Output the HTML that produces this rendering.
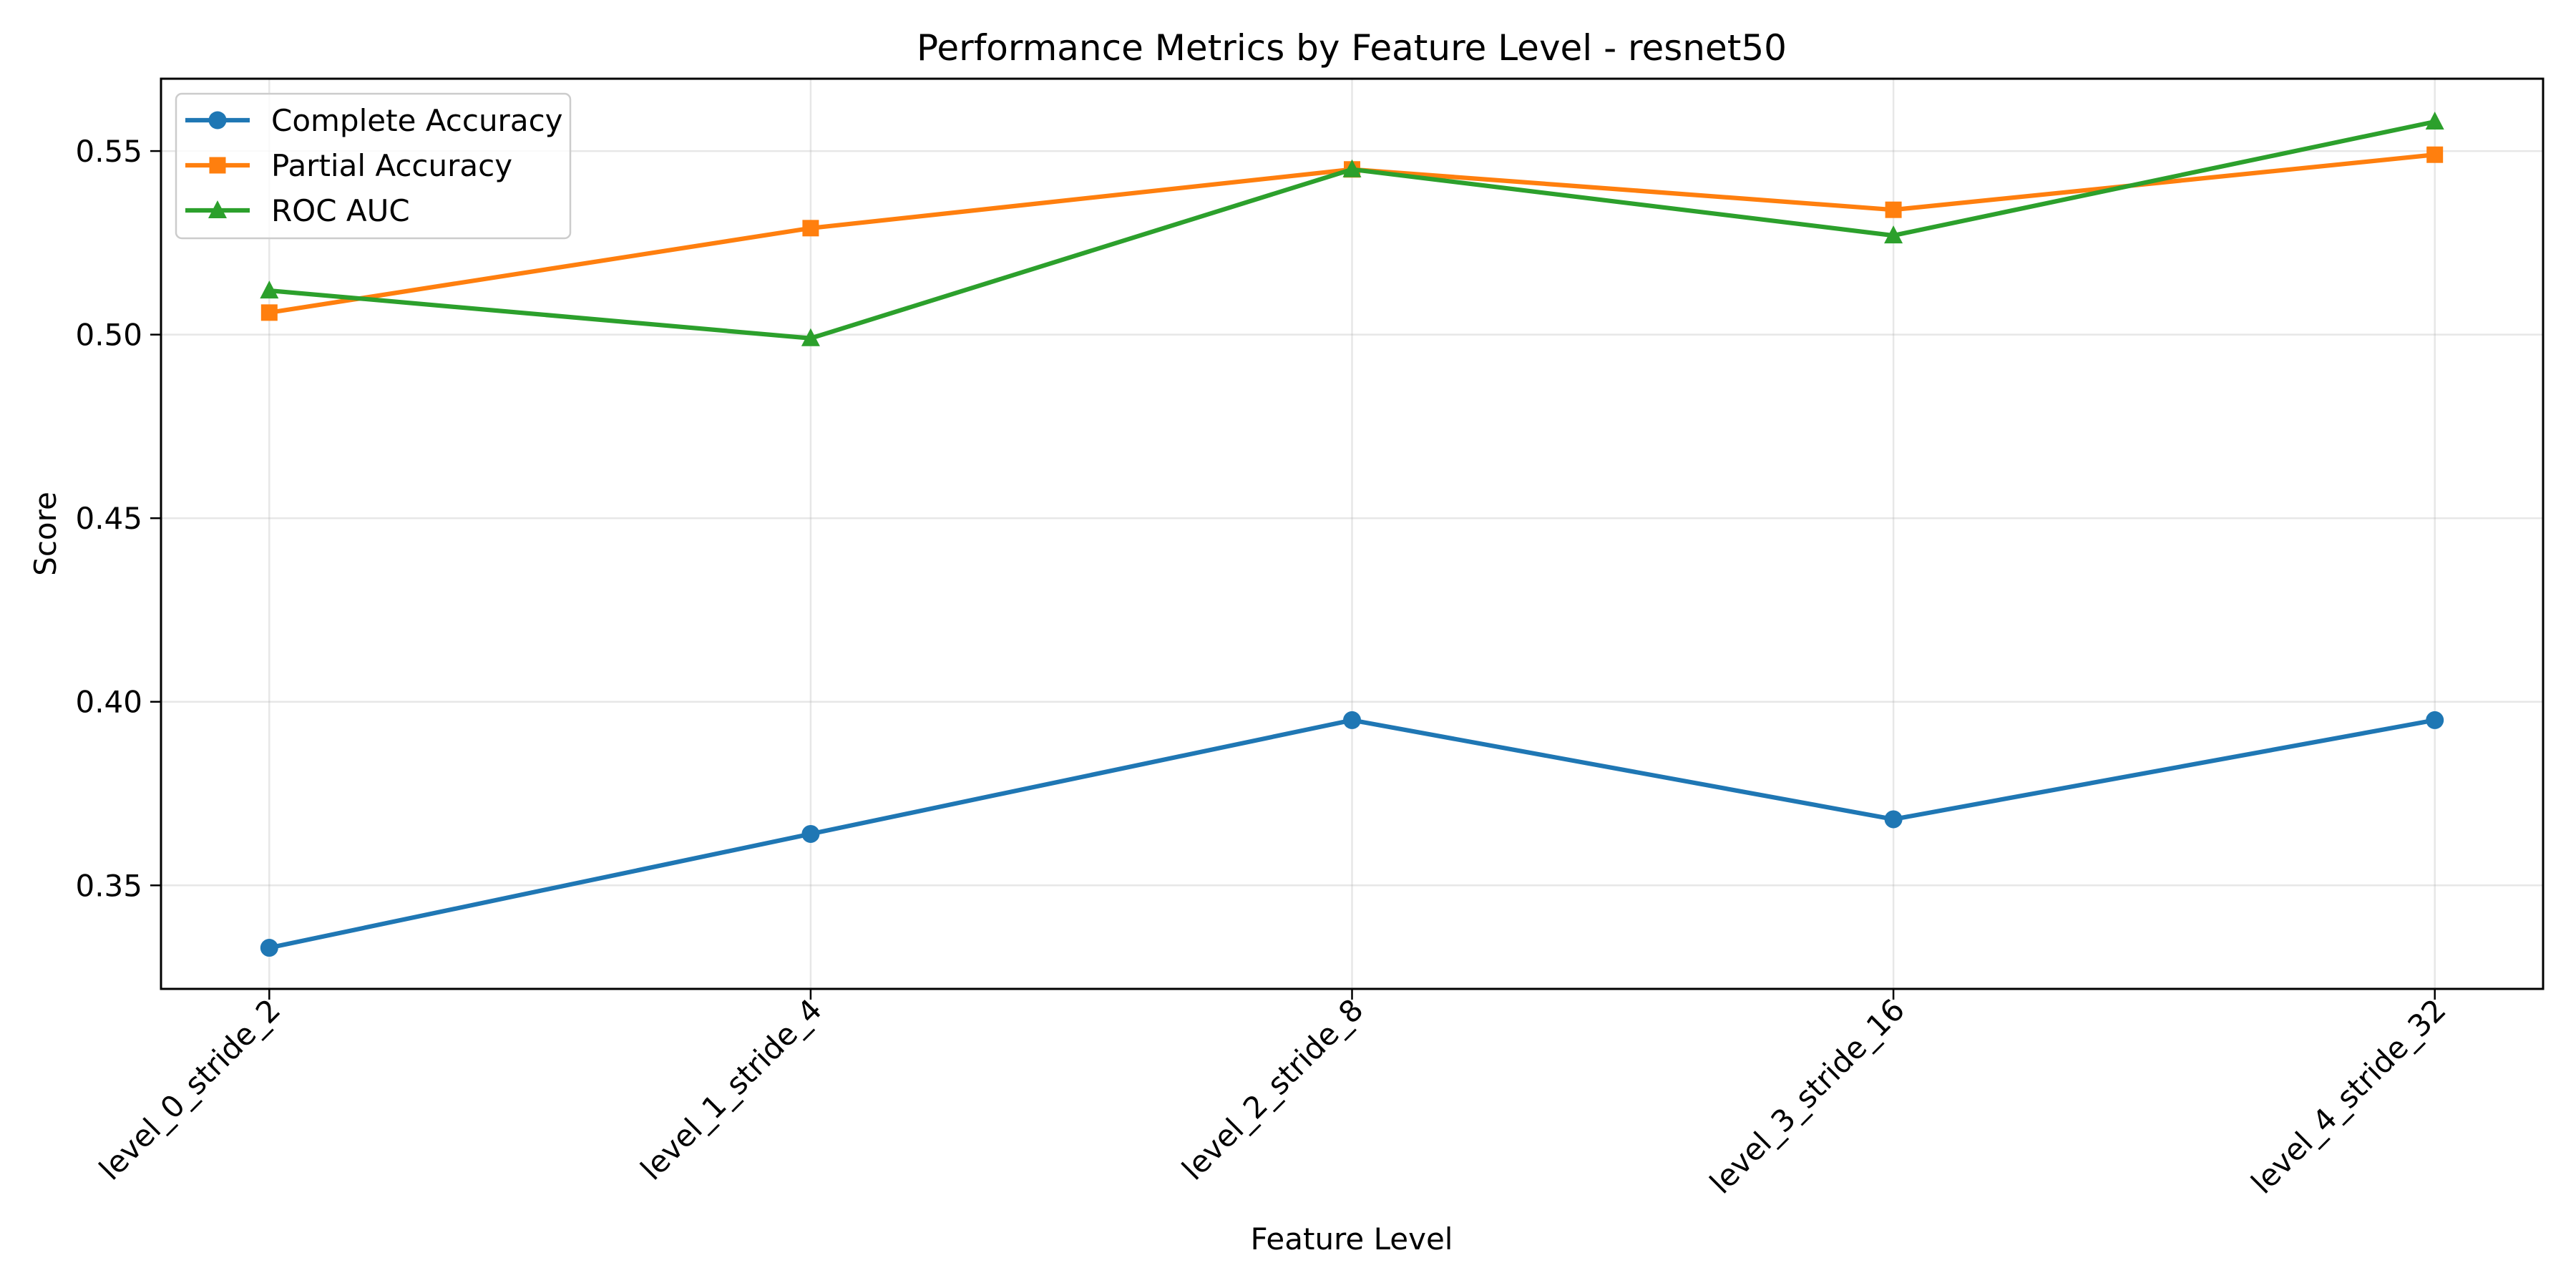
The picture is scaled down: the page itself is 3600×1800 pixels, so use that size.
<!DOCTYPE html>
<html><head><meta charset="utf-8"><style>
html,body{margin:0;padding:0;background:#fff;}
svg{display:block;font-family:"DejaVu Sans","Liberation Sans",sans-serif;}
</style></head><body>
<svg id="chart" width="3600" height="1800" viewBox="0 0 3600 1800" xmlns="http://www.w3.org/2000/svg">
<rect width="3600" height="1800" fill="#fff"/>
<text x="1889" y="84" font-size="50" text-anchor="middle">Performance Metrics by Feature Level - resnet50</text>
<g id="grid"></g>
<g id="series"></g>
<rect x="225" y="110" width="3329" height="1272" fill="none" stroke="#000" stroke-width="3"/>
<g id="axes"></g>
<text x="1889" y="1746" font-size="42" text-anchor="middle">Feature Level</text>
<text x="78" y="746" font-size="42" text-anchor="middle" transform="rotate(-90 78 746)">Score</text>
<g id="legend"></g>
</svg>
<script>
const categories = ["level_0_stride_2","level_1_stride_4","level_2_stride_8","level_3_stride_16","level_4_stride_32"];
const completeAcc = [0.333,0.364,0.395,0.368,0.395];
const partialAcc = [0.506,0.529,0.545,0.534,0.549];
const rocAuc = [0.512,0.499,0.545,0.527,0.558];
const yTicks = [0.35,0.40,0.45,0.50,0.55];
const seriesNames = ["Complete Accuracy","Partial Accuracy","ROC AUC"];

const NS="http://www.w3.org/2000/svg";
const L=225,R=3554,T=110,B=1382;
const xMin=-0.2,xMax=categories.length-1+0.2,yMin=0.3218,yMax=0.5697;
const xs=i=>L+(i-xMin)/(xMax-xMin)*(R-L);
const ys=v=>B-(v-yMin)/(yMax-yMin)*(B-T);
function mk(tag,attrs,parent){const e=document.createElementNS(NS,tag);for(const k in attrs)e.setAttribute(k,attrs[k]);parent.appendChild(e);return e;}
const grid=document.getElementById('grid'),axes=document.getElementById('axes'),ser=document.getElementById('series'),leg=document.getElementById('legend');
categories.forEach((c,i)=>{const x=xs(i);
 const g=mk('line',{x1:x,x2:x,y1:T,y2:B,stroke:'#b0b0b0','stroke-opacity':0.3,'stroke-width':2.5},grid);
 
 
 const t=mk('line',{x1:x,x2:x,y1:B,y2:B+15,stroke:'#000','stroke-width':2.5},axes);
 
 
 const ax=x+18,ay=B+32;
 const tx=mk('text',{x:ax,y:ay,'font-size':42,'text-anchor':'end',transform:`rotate(-45 ${ax} ${ay})`},axes);
 tx.textContent=c;
 
 
});
yTicks.forEach(v=>{const y=ys(v);
 const g=mk('line',{x1:L,x2:R,y1:y,y2:y,stroke:'#b0b0b0','stroke-opacity':0.3,'stroke-width':2.5},grid);
 
 
 const t=mk('line',{x1:L-15,x2:L,y1:y,y2:y,stroke:'#000','stroke-width':2.5},axes);
 
 
 const tx=mk('text',{x:L-26,y:y+15,'font-size':42,'text-anchor':'end'},axes);
 tx.textContent=v.toFixed(2);
 
 
});
const colors=['#1f77b4','#ff7f0e','#2ca02c'];
function marker(kind,x,y,color,parent){let m;
 if(kind===0)m=mk('circle',{cx:x,cy:y,r:12.5,fill:color},parent);
 else if(kind===1)m=mk('rect',{x:x-11.5,y:y-11.5,width:23,height:23,fill:color},parent);
 else m=mk('polygon',{points:`${x},${y-14} ${x+13},${y+11} ${x-13},${y+11}`,fill:color},parent);
 return m;}
[completeAcc,partialAcc,rocAuc].forEach((data,s)=>{
 const p=mk('polyline',{points:data.map((v,i)=>xs(i)+','+ys(v)).join(' '),fill:'none',stroke:colors[s],'stroke-width':6.25,'stroke-linejoin':'round','stroke-linecap':'square'},ser);
 
 
 data.forEach((v,i)=>{const m=marker(s,xs(i),ys(v),colors[s],ser);
  
  });
});
const box=mk('rect',{x:246,y:131,width:551,height:202,rx:8,fill:'#fff','fill-opacity':0.8,stroke:'#ccc','stroke-width':2.5},leg);


seriesNames.forEach((n,s)=>{const y=168+s*63;
 const l=mk('line',{x1:259,x2:349,y1:y,y2:y,stroke:colors[s],'stroke-width':6.25},leg);
 
 
 const m=marker(s,304,y,colors[s],leg);
 
 
 const t=mk('text',{x:379,y:y+15,'font-size':42},leg);
 t.textContent=n;
 
 
});
</script>
</body></html>
